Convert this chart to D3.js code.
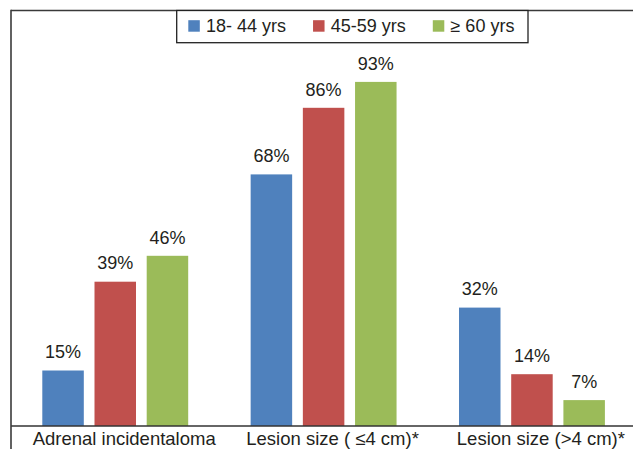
<!DOCTYPE html>
<html>
<head>
<meta charset="utf-8">
<script src="https://cdn.jsdelivr.net/npm/d3@7"></script>
<style>
  html, body { margin: 0; padding: 0; background: #fff; }
  svg { display: block; font-family: "Liberation Sans", Arial, Helvetica, sans-serif; }
</style>
</head>
<body>
<svg id="chart" width="633" height="449"></svg>
<script>
const categories = ["Adrenal incidentaloma", "Lesion size ( \u22644 cm)*", "Lesion size (>4 cm)*"];
const seriesNames = ["18- 44 yrs", "45-59 yrs", "\u2265 60 yrs"];
const seriesColors = ["#4F81BD", "#C0504D", "#9BBB59"];
const values18to44 = [15, 68, 32];
const values45to59 = [39, 86, 14];
const values60plus = [46, 93, 7];
const valueSeries = [values18to44, values45to59, values60plus];

const svg = d3.select("#chart");
const W = 633, H = 449;
const frameLeft = 11, frameTop = 10.5, axisY = 426;

const x0 = d3.scaleBand().domain(categories).range([frameLeft, frameLeft + 3 * 208.35]).padding(0);
const x1 = d3.scaleBand().domain(seriesNames).range([31.3, 177.2]).paddingInner(0.205).paddingOuter(0);
const y = d3.scaleLinear().domain([0, 100]).range([axisY, axisY - 370]);

const rows = categories.map((c, i) => ({
  cat: c,
  vals: seriesNames.map((s, j) => ({ s, j, v: valueSeries[j][i] }))
}));

const groups = svg.append("g").selectAll("g").data(rows).join("g")
  .attr("transform", d => `translate(${x0(d.cat)},0)`);

groups.selectAll("rect").data(d => d.vals).join("rect")
  .attr("x", d => x1(d.s))
  .attr("width", x1.bandwidth())
  .attr("y", d => y(d.v))
  .attr("height", d => y(0) - y(d.v))
  .attr("fill", d => seriesColors[d.j]);

groups.selectAll("text").data(d => d.vals).join("text")
  .attr("x", d => x1(d.s) + x1.bandwidth() / 2)
  .attr("y", d => y(d.v) - 12.3)
  .attr("text-anchor", "middle")
  .attr("font-size", 18)
  .attr("fill", "#231f20")
  .text(d => d.v + "%");

// category axis
const xAxis = d3.axisBottom(x0).tickSize(0).tickPadding(0);
const axisG = svg.append("g").attr("transform", `translate(0,${axisY})`).call(xAxis);
axisG.select(".domain").remove();
axisG.selectAll("text")
  .attr("font-family", "'Liberation Sans', Arial, sans-serif")
  .attr("font-size", 18.5)
  .attr("fill", "#231f20")
  .attr("dy", null)
  .attr("y", 19.2)
  .attr("x", 9);

// frame lines
svg.append("line").attr("x1", frameLeft).attr("x2", W).attr("y1", axisY).attr("y2", axisY)
  .attr("stroke", "#333").attr("stroke-width", 1.5);
svg.append("line").attr("x1", frameLeft).attr("x2", W).attr("y1", frameTop).attr("y2", frameTop)
  .attr("stroke", "#3a3a3a").attr("stroke-width", 1.6);
svg.append("line").attr("x1", frameLeft).attr("x2", frameLeft).attr("y1", frameTop - 0.8).attr("y2", H)
  .attr("stroke", "#3a3a3a").attr("stroke-width", 1.6);

// legend
const legend = svg.append("g");
legend.append("rect").attr("x", 176.7).attr("y", frameTop).attr("width", 351.3).attr("height", 32.2)
  .attr("fill", "#fff").attr("stroke", "#222").attr("stroke-width", 1.3);
let lx = 188.3;
seriesNames.forEach((s, j) => {
  legend.append("rect").attr("x", lx).attr("y", 20.2).attr("width", 11.5).attr("height", 11.5)
    .attr("fill", seriesColors[j]);
  const t = legend.append("text").attr("x", lx + 17.7).attr("y", 31.7)
    .attr("font-size", 18).attr("fill", "#231f20").text(s);
  lx += 17.7 + t.node().getComputedTextLength() + 27;
});
</script>
</body>
</html>
